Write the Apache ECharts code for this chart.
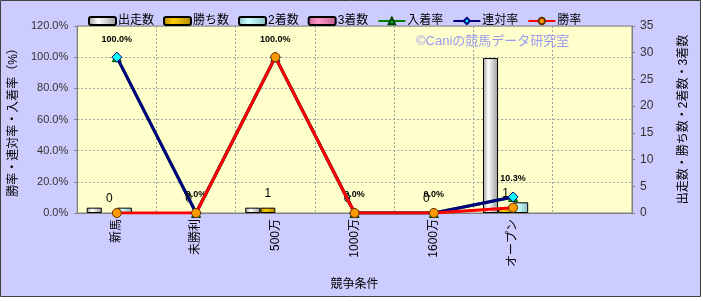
<!DOCTYPE html>
<html>
<head>
<meta charset="utf-8">
<script src="https://cdn.jsdelivr.net/npm/echarts@6/dist/echarts.min.js"></script>
<style>
html,body{margin:0;padding:0;background:#ffffff;}
#c{width:703px;height:301px;}
</style>
</head>
<body>
<div id="c"></div>
<script>
var categories = ['新馬', '未勝利', '500万', '1000万', '1600万', 'オープン', ''];
var starts = [1, 0, 1, 0, 0, 29, null];
var wins = [0, 0, 1, 0, 0, 1, null];
var seconds = [1, 0, 0, 0, 0, 2, null];
var thirds = [0, 0, 0, 0, 0, 0, null];
var placeRate = [100, 0, 100, 0, 0, 10.3, null];
var rentaiRate = [100, 0, 100, 0, 0, 10.3, null];
var winRate = [0, 0, 100, 0, 0, 3.4, null];

var FONT = "'Liberation Sans', 'Noto Sans CJK JP', sans-serif";
function grad(edge, mid) {
  return new echarts.graphic.LinearGradient(0, 0, 1, 0, [
    {offset: 0, color: edge}, {offset: 0.35, color: mid}, {offset: 1, color: edge}
  ]);
}
// zero-height bars get no border so they do not draw a line on the axis
function barData(arr) {
  return arr.map(function (v) {
    return v === 0 ? {value: v, itemStyle: {borderWidth: 0}} : v;
  });
}
var chart = echarts.init(document.getElementById('c'), null, {renderer: 'canvas'});
var barBase = {
  type: 'bar', yAxisIndex: 1, barGap: '0%', barCategoryGap: '24%'
};
var option = {
  backgroundColor: '#ffffff',
  animation: false,
  textStyle: {fontFamily: FONT},
  graphic: [
    {type: 'rect', z: -10, shape: {x: 0.5, y: 0.5, width: 700, height: 296},
     style: {fill: '#ccccff', stroke: '#404040', lineWidth: 1}},
    {type: 'text', z: 100, left: 416, top: 35,
     style: {text: '©Caniの競馬データ研究室', fill: '#9a9af0', font: "13px 'Liberation Sans', 'Noto Sans CJK JP', sans-serif"}}
  ],
  legend: {
    left: 83, top: 10, itemGap: 9, itemWidth: 27, itemHeight: 8,
    textStyle: {fontSize: 12, color: '#000', fontFamily: FONT, padding: [0, 0, 0, -3]},
    data: ['出走数', '勝ち数', '2着数', '3着数', '入着率', '連対率', '勝率']
  },
  grid: {left: 77, right: 71, top: 26, bottom: 88, show: true,
         backgroundColor: '#ffffcc', borderColor: '#808080', borderWidth: 1},
  xAxis: {
    type: 'category', data: categories,
    name: '競争条件', nameLocation: 'middle', nameGap: 66,
    nameTextStyle: {fontSize: 12, color: '#000', fontFamily: FONT},
    axisLine: {lineStyle: {color: '#808080'}},
    axisTick: {show: false},
    axisLabel: {rotate: 90, fontSize: 12, color: '#000', margin: 6, interval: 0, fontFamily: FONT},
    splitLine: {show: true, interval: 0, lineStyle: {color: '#a0a0a0', type: [2, 2], width: 1}}
  },
  yAxis: [
    {
      type: 'value', min: 0, max: 120, interval: 20, position: 'left',
      name: '勝率・連対率・入着率（%）', nameLocation: 'middle', nameGap: 55, nameRotate: 90,
      nameTextStyle: {fontSize: 12, color: '#000', fontFamily: FONT},
      axisLine: {show: true, lineStyle: {color: '#808080'}},
      axisTick: {show: true, length: 3, inside: false, lineStyle: {color: '#808080'}},
      axisLabel: {fontSize: 11, color: '#333', margin: 9,
                  formatter: function (v) { return v.toFixed(1) + '%'; }},
      splitLine: {show: true, lineStyle: {color: '#a0a0a0', type: [2, 2], width: 1}}
    },
    {
      type: 'value', min: 0, max: 35, interval: 5, position: 'right',
      name: '出走数・勝ち数・2着数・3着数', nameLocation: 'middle', nameGap: 46, nameRotate: 90,
      nameTextStyle: {fontSize: 12, color: '#000', fontFamily: FONT},
      axisLine: {show: true, lineStyle: {color: '#808080'}},
      axisTick: {show: true, length: 3, lineStyle: {color: '#808080'}},
      axisLabel: {fontSize: 12, color: '#333', margin: 8},
      splitLine: {show: false}
    }
  ],
  series: [
    Object.assign({}, barBase, {name: '出走数', data: barData(starts),
      itemStyle: {color: grad('#9a9a9a', '#ffffff'), borderColor: '#000', borderWidth: 1}}),
    Object.assign({}, barBase, {name: '勝ち数', data: barData(wins),
      itemStyle: {color: grad('#b08800', '#ffcc00'), borderColor: '#000', borderWidth: 1},
      label: {show: true, position: 'top', distance: 8, fontSize: 12, color: '#000', fontFamily: FONT}}),
    Object.assign({}, barBase, {name: '2着数', data: barData(seconds),
      itemStyle: {color: grad('#88c0c0', '#ccffff'), borderColor: '#000', borderWidth: 1}}),
    Object.assign({}, barBase, {name: '3着数', data: barData(thirds),
      itemStyle: {color: grad('#c06090', '#ff99cc'), borderColor: '#000', borderWidth: 1}}),
    {name: '入着率', type: 'line', yAxisIndex: 0, data: placeRate, z: 3,
     symbol: 'triangle', symbolSize: 9, showAllSymbol: true,
     lineStyle: {color: '#008000', width: 3},
     itemStyle: {color: '#00cc00', borderColor: '#004000', borderWidth: 1}},
    {name: '連対率', type: 'line', yAxisIndex: 0, data: rentaiRate, z: 4,
     symbol: 'diamond', symbolSize: 10, showAllSymbol: true,
     lineStyle: {color: '#000080', width: 3},
     itemStyle: {color: '#00ffff', borderColor: '#000080', borderWidth: 1},
     label: {show: true, position: 'top', distance: 8, fontSize: 9, fontWeight: 'bold', color: '#000',
             formatter: function (p) { return p.value == null ? '' : Number(p.value).toFixed(1) + '%'; }}},
    {name: '勝率', type: 'line', yAxisIndex: 0, data: winRate, z: 5,
     symbol: 'circle', symbolSize: 9, showAllSymbol: true,
     lineStyle: {color: '#ff0000', width: 3},
     itemStyle: {color: '#ff9900', borderColor: '#663300', borderWidth: 1}}
  ]
};
chart.setOption(option);
</script>
</body>
</html>
